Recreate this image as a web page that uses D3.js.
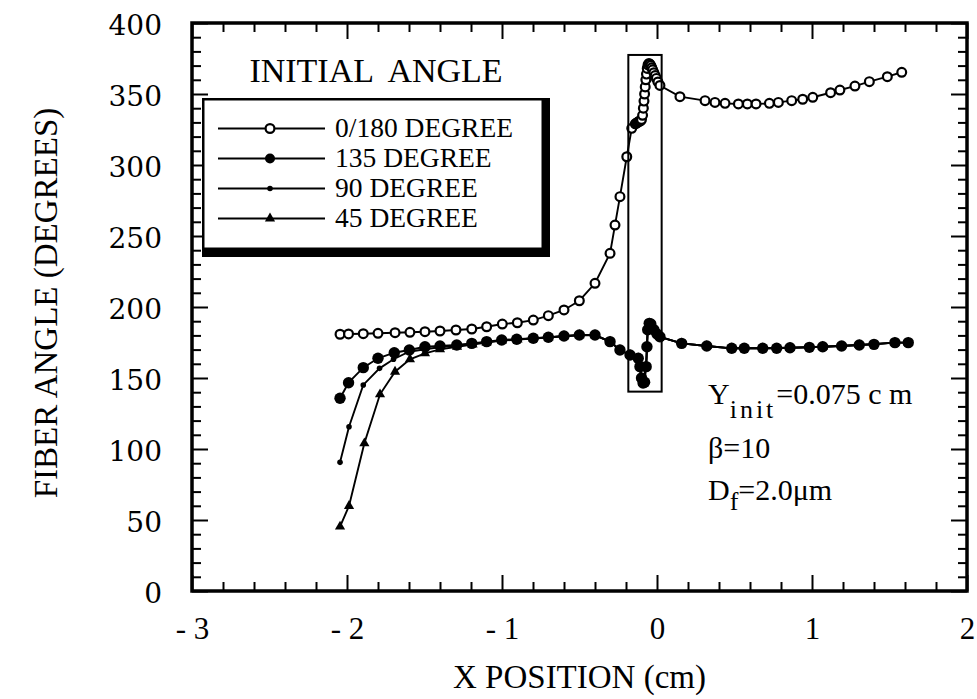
<!DOCTYPE html>
<html>
<head>
<meta charset="utf-8">
<script src="https://cdn.jsdelivr.net/npm/d3@7"></script>
<style>
  html, body { margin: 0; padding: 0; background: #fff; }
  svg { display: block; }
</style>
</head>
<body>
<svg id="chart" width="977" height="699"></svg>
<script>
// ---------------- DATA ----------------
const xMajorTicks = [-3, -2, -1, 0, 1, 2];
const xTickLabels = ["- 3", "- 2", "- 1", "0", "1", "2"];
const yMajorTicks = [0, 50, 100, 150, 200, 250, 300, 350, 400];
const yTickLabels = ["0", "50", "100", "150", "200", "250", "300", "350", "400"];

const seriesNames = ["0/180 DEGREE", "135 DEGREE", "90 DEGREE", "45 DEGREE"];

// 0/180 degree (open circles)
const x0_180 = [-2.045, -1.99, -1.895, -1.80, -1.69, -1.594, -1.497, -1.40, -1.297, -1.195, -1.099, -0.998, -0.901, -0.798, -0.701, -0.60, -0.501, -0.40, -0.303, -0.271, -0.239, -0.195, -0.163, -0.14, -0.132, -0.125, -0.118, -0.112, -0.106, -0.1, -0.093, -0.088, -0.084, -0.08, -0.076, -0.072, -0.068, -0.063, -0.058, -0.052, -0.046, -0.04, -0.034, -0.028, -0.02, -0.012, -0.004, 0.006, 0.019, 0.148, 0.31, 0.374, 0.439, 0.525, 0.583, 0.639, 0.725, 0.783, 0.869, 0.94, 1.005, 1.12, 1.18, 1.277, 1.37, 1.486, 1.579];
const y0_180 = [180.8, 181, 181.2, 181.5, 181.9, 182.2, 182.6, 183.1, 183.8, 184.5, 186.1, 188, 188.9, 190.8, 193.9, 197.9, 204.4, 216.7, 237.8, 257.7, 277.7, 305.8, 325.8, 329, 329.5, 330, 330.5, 331, 331, 332, 335, 340, 345, 350, 355, 360, 364, 368, 370.5, 371.5, 371, 370, 368.5, 367, 365, 363, 361, 358.5, 356, 348.1, 345.3, 344.1, 343.4, 343, 343, 343, 343.4, 344.1, 345.3, 346.3, 347.7, 350.9, 352.8, 355.6, 358.7, 362.2, 365.3];

// 135 degree (filled circles)
const x135 = [-2.045, -1.99, -1.895, -1.80, -1.695, -1.598, -1.497, -1.40, -1.292, -1.195, -1.099, -1.002, -0.905, -0.798, -0.701, -0.60, -0.501, -0.40, -0.303, -0.239, -0.174, -0.121, -0.11, -0.10, -0.09, -0.08, -0.07, -0.065, -0.06, -0.05, -0.04, -0.02, 0.0, 0.019, 0.159, 0.321, 0.482, 0.563, 0.682, 0.772, 0.858, 0.983, 1.069, 1.191, 1.305, 1.40, 1.535, 1.621];
const y135 = [135.7, 146.7, 157.3, 163.9, 167.8, 169.7, 172, 172.5, 173.2, 174.4, 175.6, 176.8, 177.3, 178, 178.7, 179.6, 180.3, 180.3, 175.6, 169.7, 166.2, 163.9, 158, 150, 146.5, 147, 158, 172, 184, 188.5, 188, 184, 181, 179, 174.4, 172.5, 170.9, 170.9, 170.9, 170.9, 171.3, 171.6, 172, 172.5, 173.2, 173.7, 174.9, 174.9];

// 90 degree (small dots)
const x90 = [-2.045, -1.987, -1.895, -1.79, -1.70, -1.6, -1.486, -1.39, -1.29, -1.19, -1.10, -1.0, -0.9, -0.8, -0.7, -0.6, -0.5, -0.4, -0.303, -0.239, -0.174, -0.121, -0.1, -0.09, -0.07, -0.06, -0.05, -0.02, 0.019, 0.159, 0.321, 0.482, 0.682, 0.858, 1.069, 1.305, 1.535, 1.621];
const y90 = [90.6, 115.7, 145.1, 156.8, 163.2, 168.5, 170.4, 171.8, 172.9, 174.2, 175.3, 176.5, 177.2, 177.9, 178.6, 179.5, 180.2, 180.2, 175.6, 169.7, 166.2, 163.9, 150, 146.5, 158, 184, 188.5, 184, 179, 174.4, 172.5, 170.9, 170.9, 171.3, 172, 173.2, 174.9, 174.9];

// 45 degree (triangles)
const x45 = [-2.045, -1.987, -1.888, -1.787, -1.69, -1.594, -1.497, -1.40, -1.29, -1.19, -1.10, -1.0, -0.9, -0.8, -0.7, -0.6, -0.5, -0.4, -0.303, -0.239, -0.174, -0.121, -0.1, -0.09, -0.07, -0.06, -0.05, -0.02, 0.019, 0.159, 0.321, 0.482, 0.682, 0.858, 1.069, 1.305, 1.535, 1.621];
const y45 = [45.3, 59.9, 104, 138.5, 154.4, 163.2, 167.4, 170.2, 172.0, 173.6, 175.0, 176.3, 177.1, 177.8, 178.5, 179.4, 180.1, 180.1, 175.6, 169.7, 166.2, 163.9, 150, 146.5, 158, 184, 188.5, 184, 179, 174.4, 172.5, 170.9, 170.9, 171.3, 172, 173.2, 174.9, 174.9];

// highlighted region (data units)
const boxX = [-0.185, 0.03];
const boxY = [140.4, 377.5];

// ---------------- CHART ----------------
const svg = d3.select("#chart");
const L = 192, R = 967, T = 23, B = 591;
const x = d3.scaleLinear().domain([-3, 2]).range([L, R]);
const y = d3.scaleLinear().domain([0, 400]).range([B, T]);

const xMinor = d3.range(-3, 2.0001, 0.2).map(v => +v.toFixed(2)).filter(v => !xMajorTicks.includes(v));
const yMinor = d3.range(0, 400.0001, 10).filter(v => !yMajorTicks.includes(v));

const MAJ = 16, MIN = 9;
function styleAxis(g) {
  g.select(".domain").remove();
  g.selectAll(".tick line").attr("stroke", "#000").attr("stroke-width", 2);
}

// bottom
svg.append("g").attr("transform", `translate(0,${B})`)
  .call(d3.axisBottom(x).tickValues(xMinor).tickSize(-MIN).tickFormat(""))
  .call(styleAxis);
const gxb = svg.append("g").attr("transform", `translate(0,${B})`)
  .call(d3.axisBottom(x).tickValues(xMajorTicks).tickSize(-MAJ).tickPadding(26)
    .tickFormat((d, i) => xTickLabels[i]))
  .call(styleAxis);
gxb.selectAll("text").attr("font-family", "Liberation Serif, Times New Roman, serif")
  .attr("font-size", 31).attr("fill", "#000").attr("dy", "0.71em");

// top
svg.append("g").attr("transform", `translate(0,${T})`)
  .call(d3.axisTop(x).tickValues(xMinor).tickSize(-MIN).tickFormat(""))
  .call(styleAxis);
svg.append("g").attr("transform", `translate(0,${T})`)
  .call(d3.axisTop(x).tickValues(xMajorTicks).tickSize(-MAJ).tickFormat(""))
  .call(styleAxis);

// left
svg.append("g").attr("transform", `translate(${L},0)`)
  .call(d3.axisLeft(y).tickValues(yMinor).tickSize(-MIN).tickFormat(""))
  .call(styleAxis);
const gyl = svg.append("g").attr("transform", `translate(${L},0)`)
  .call(d3.axisLeft(y).tickValues(yMajorTicks).tickSize(-MAJ).tickPadding(30)
    .tickFormat((d, i) => yTickLabels[i]))
  .call(styleAxis);
gyl.selectAll("text").attr("font-family", "DejaVu Serif, serif")
  .attr("font-size", 28).attr("fill", "#000").attr("dy", "0.42em");

// right
svg.append("g").attr("transform", `translate(${R},0)`)
  .call(d3.axisRight(y).tickValues(yMinor).tickSize(-MIN).tickFormat(""))
  .call(styleAxis);
svg.append("g").attr("transform", `translate(${R},0)`)
  .call(d3.axisRight(y).tickValues(yMajorTicks).tickSize(-MAJ).tickFormat(""))
  .call(styleAxis);

// frame
svg.append("rect").attr("x", L).attr("y", T).attr("width", R - L).attr("height", B - T)
  .attr("fill", "none").attr("stroke", "#000").attr("stroke-width", 3.5);

// axis titles
svg.append("text").attr("x", (L + R) / 2).attr("y", 688)
  .attr("text-anchor", "middle").attr("font-family", "Liberation Serif, serif")
  .attr("font-size", 33).text("X POSITION (cm)");
svg.append("text").attr("transform", `translate(57,${(T + B) / 2 - 4}) rotate(-90)`)
  .attr("text-anchor", "middle").attr("font-family", "Liberation Serif, serif")
  .attr("font-size", 33).text("FIBER ANGLE (DEGREES)");

// series
const series = [
  { name: seriesNames[3], xs: x45, ys: y45, marker: "tri" },
  { name: seriesNames[2], xs: x90, ys: y90, marker: "dot" },
  { name: seriesNames[1], xs: x135, ys: y135, marker: "fill" },
  { name: seriesNames[0], xs: x0_180, ys: y0_180, marker: "open" }
];
const line = d3.line().x(d => x(d[0])).y(d => y(d[1]));
const tri = d3.symbol().type(d3.symbolTriangle).size(45);

function drawMarker(g, m, cx, cy, legend) {
  if (m === "open") {
    g.append("circle").attr("cx", cx).attr("cy", cy).attr("r", 4.4)
      .attr("fill", "#fff").attr("stroke", "#000").attr("stroke-width", 2.2);
  } else if (m === "fill") {
    g.append("circle").attr("cx", cx).attr("cy", cy).attr("r", legend ? 5 : 5.7).attr("fill", "#000");
  } else if (m === "dot") {
    g.append("circle").attr("cx", cx).attr("cy", cy).attr("r", 2.8).attr("fill", "#000");
  } else {
    g.append("path").attr("d", tri).attr("transform", `translate(${cx},${cy})`).attr("fill", "#000");
  }
}

series.forEach(s => {
  const pts = s.xs.map((v, i) => [v, s.ys[i]]);
  const g = svg.append("g");
  g.append("path").datum(pts).attr("d", line).attr("fill", "none")
    .attr("stroke", "#000").attr("stroke-width", 1.9);
  pts.forEach(p => drawMarker(g, s.marker, x(p[0]), y(p[1]), false));
});

// highlighted box
svg.append("rect")
  .attr("x", x(boxX[0])).attr("y", y(boxY[1]))
  .attr("width", x(boxX[1]) - x(boxX[0])).attr("height", y(boxY[0]) - y(boxY[1]))
  .attr("fill", "none").attr("stroke", "#000").attr("stroke-width", 2);

// legend
svg.append("text").attr("x", 376).attr("y", 82).attr("text-anchor", "middle")
  .attr("font-family", "Liberation Serif, serif").attr("font-size", 34)
  .attr("word-spacing", 8).text("INITIAL ANGLE");
svg.append("rect").attr("x", 202).attr("y", 98).attr("width", 348).attr("height", 159).attr("fill", "#000");
svg.append("rect").attr("x", 204.5).attr("y", 100.5).attr("width", 337).attr("height", 147).attr("fill", "#fff");
const legMarkers = ["open", "fill", "dot", "tri"];
const lg = svg.append("g");
seriesNames.forEach((n, i) => {
  const ly = 128.5 + i * 30;
  lg.append("line").attr("x1", 218).attr("x2", 325).attr("y1", ly).attr("y2", ly)
    .attr("stroke", "#000").attr("stroke-width", 1.8);
  drawMarker(lg, legMarkers[i], 270, ly, true);
  lg.append("text").attr("x", 335).attr("y", ly + 8.5)
    .attr("font-family", "Liberation Serif, serif").attr("font-size", 27.5).text(n);
});

// annotation
const ann = svg.append("g").attr("font-family", "Liberation Serif, serif").attr("font-size", 30);
const t1 = ann.append("text").attr("x", 708).attr("y", 404);
t1.append("tspan").text("Y");
t1.append("tspan").attr("dy", 14).attr("font-size", 26).attr("letter-spacing", 3).text("init");
t1.append("tspan").attr("dy", -14).text("=0.075 c m");
ann.append("text").attr("x", 708).attr("y", 458).text("β=10");
const t3 = ann.append("text").attr("x", 708).attr("y", 500);
t3.append("tspan").text("D");
t3.append("tspan").attr("dy", 10).attr("font-size", 26).text("f");
t3.append("tspan").attr("dy", -10).text("=2.0μm");
</script>
</body>
</html>
